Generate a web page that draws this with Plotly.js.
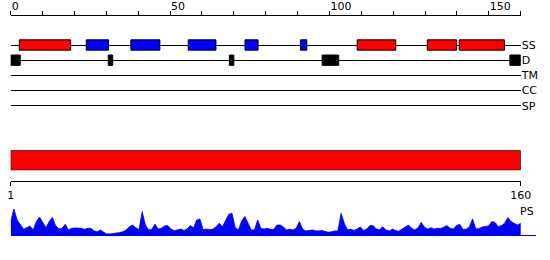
<!DOCTYPE html>
<html><head><meta charset="utf-8">
<script src="https://cdn.plot.ly/plotly-3.0.1.min.js"></script>
<style>html,body{margin:0;padding:0;background:#fff}</style>
</head><body><div id="chart" style="width:550px;height:260px"></div>
<script>
// ---- data ----
var rowNames = ['SS', 'D', 'TM', 'CC', 'SP'];
var topTicks = [0,10,20,30,40,50,60,70,80,90,100,110,120,130,140,150,160];
var topLabels = ['0','','','','','50','','','','','100','','','','','150',''];
var helixStart = [2.7, 108.7, 130.7, 140.7];
var helixEnd   = [18.8, 120.8, 139.9, 154.9];
var strandStart = [23.7, 37.7, 55.7, 73.5, 90.9];
var strandEnd   = [30.7, 46.8, 64.4, 77.6, 92.9];
var disorderStart = [0, 30.6, 68.6, 97.7, 156.6];
var disorderEnd   = [3, 32, 70, 102.9, 160];
var domainStart = [1];
var domainEnd = [160];
var seqTicks = [1, 160];
var seqLabels = ['1', '160'];
var psLabel = 'PS';
var ps = [
0.5,0.97,0.56,0.38,0.22,0.27,0.34,0.19,0.5,0.67,
0.47,0.27,0.5,0.65,0.35,0.22,0.25,0.4,0.19,0.25,
0.26,0.25,0.25,0.21,0.25,0.25,0.15,0.12,0.19,0.1,
0.04,0.04,0.05,0.07,0.09,0.12,0.19,0.31,0.37,0.27,
0.2,0.87,0.37,0.19,0.21,0.4,0.22,0.25,0.34,0.35,
0.22,0.16,0.19,0.22,0.17,0.22,0.35,0.27,0.56,0.6,
0.2,0.22,0.2,0.22,0.3,0.44,0.31,0.56,0.77,0.81,
0.27,0.19,0.52,0.69,0.44,0.19,0.19,0.56,0.25,0.22,
0.25,0.21,0.21,0.37,0.37,0.3,0.19,0.21,0.19,0.25,
0.5,0.22,0.15,0.17,0.19,0.16,0.15,0.17,0.12,0.1,
0.12,0.15,0.15,0.81,0.44,0.19,0.22,0.17,0.22,0.3,
0.17,0.22,0.35,0.35,0.22,0.2,0.31,0.19,0.15,0.22,
0.17,0.14,0.22,0.31,0.37,0.25,0.19,0.27,0.47,0.29,
0.22,0.27,0.22,0.25,0.24,0.29,0.35,0.25,0.22,0.35,
0.4,0.21,0.21,0.31,0.6,0.22,0.24,0.3,0.31,0.34,
0.5,0.47,0.31,0.35,0.44,0.65,0.5,0.44,0.37,0.44
];

// ---- build ----
function lengths(s, e) { return s.map(function (v, i) { return e[i] - v; }); }
function rowOf(arr, name) { var r = rowNames.indexOf(name); return arr.map(function () { return r; }); }
var residues = ps.map(function (v, i) { return i + 1; });

var W = 550, H = 260;
function fx(px) { return px / W; }
function fy(px) { return 1 - px / H; }
var font = {family: 'DejaVu Sans, sans-serif', size: 11, color: '#000'};
var outline = {color: '#000', width: 1};

var traces = [
  {type: 'bar', orientation: 'h', y: rowOf(helixStart, 'SS'), base: helixStart, x: lengths(helixStart, helixEnd),
   width: 0.68, marker: {color: '#ff0000', line: outline}, xaxis: 'x', yaxis: 'y'},
  {type: 'bar', orientation: 'h', y: rowOf(strandStart, 'SS'), base: strandStart, x: lengths(strandStart, strandEnd),
   width: 0.68, marker: {color: '#0000ff', line: outline}, xaxis: 'x', yaxis: 'y'},
  {type: 'bar', orientation: 'h', y: rowOf(disorderStart, 'D'), base: disorderStart, x: lengths(disorderStart, disorderEnd),
   width: 0.68, marker: {color: '#000000', line: outline}, xaxis: 'x', yaxis: 'y'},
  {type: 'bar', orientation: 'h', y: [0], base: domainStart, x: lengths(domainStart, domainEnd),
   width: 1, marker: {color: '#ff0000', line: outline}, xaxis: 'x2', yaxis: 'y2'},
  {type: 'scatter', mode: 'lines', x: residues, y: ps, fill: 'tozeroy', fillcolor: '#0000ff',
   line: {color: '#0000ff', width: 0.8}, xaxis: 'x3', yaxis: 'y3'}
];

var layout = {
  width: W, height: H, autosize: false,
  margin: {l: 0, r: 0, t: 0, b: 0, pad: 0},
  paper_bgcolor: '#fff', plot_bgcolor: 'rgba(0,0,0,0)',
  showlegend: false, hovermode: false, barmode: 'overlay',
  font: font,
  xaxis: {domain: [fx(10.7), fx(520.7)], range: [0, 160], anchor: 'free', position: fy(14.5), side: 'top',
          showline: true, linecolor: '#000', linewidth: 1, ticks: 'outside', ticklen: 4, tickcolor: '#000', tickwidth: 1,
          tickvals: topTicks, ticktext: topLabels, ticklabelposition: 'outside right', tickfont: font,
          showgrid: false, zeroline: false, fixedrange: true},
  yaxis: {domain: [fy(113.4), fy(37.4)], range: [4.5, -0.5], anchor: 'x', side: 'right',
          tickvals: [0, 1, 2, 3, 4], ticktext: rowNames, ticks: '', tickfont: font,
          showgrid: true, gridcolor: '#000', gridwidth: 1, zeroline: false, showline: false, fixedrange: true},
  xaxis2: {domain: [fx(10.7), fx(520.7)], range: [1, 160], anchor: 'free', position: fy(180.5), side: 'bottom',
           showline: true, linecolor: '#000', linewidth: 1, ticks: 'outside', ticklen: 4, tickcolor: '#000', tickwidth: 1,
           tickvals: seqTicks, ticktext: seqLabels, tickfont: font, showgrid: false, zeroline: false, fixedrange: true},
  yaxis2: {domain: [fy(170.3), fy(150.3)], range: [-0.5, 0.5], anchor: 'x2', visible: false, fixedrange: true},
  xaxis3: {domain: [fx(10.7), fx(535.7)], range: [1, 1 + 525 / (510 / 159)], anchor: 'y3',
           showline: true, linecolor: '#0000ff', linewidth: 1, ticks: '', showticklabels: false,
           showgrid: false, zeroline: false, fixedrange: true},
  yaxis3: {domain: [fy(235), fy(208.2)], range: [0, 1], anchor: 'x3', visible: false, fixedrange: true},
  annotations: [
    {text: psLabel, xref: 'paper', yref: 'paper', x: fx(527), y: fy(211), xanchor: 'center', yanchor: 'middle',
     showarrow: false, font: font}
  ]
};

Plotly.newPlot('chart', traces, layout, {displayModeBar: false, staticPlot: true});
</script></body></html>
